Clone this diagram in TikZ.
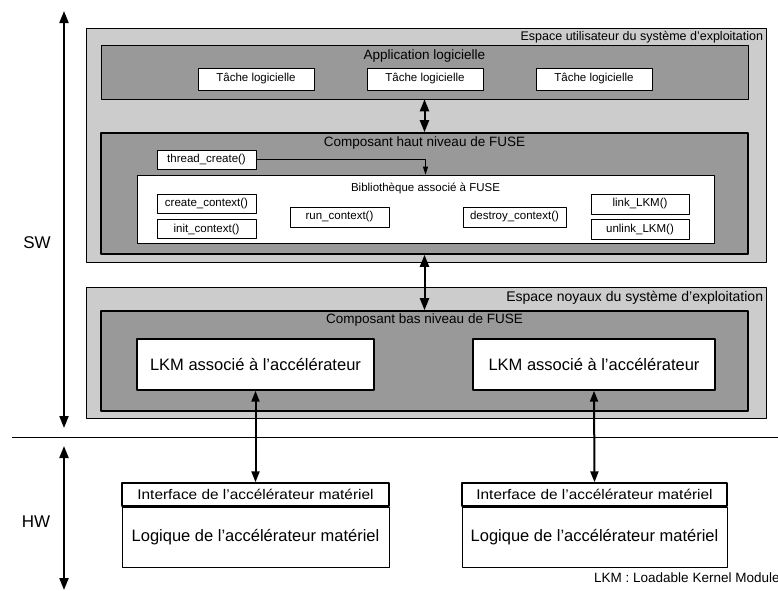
\documentclass[tikz,border=0pt]{standalone}
\usepackage{fontspec}
\setmainfont{Liberation Sans}
\newfontfamily\largefont{Liberation Sans}[FakeStretch=1.1]
\usetikzlibrary{arrows.meta,positioning}
\begin{document}
\begin{tikzpicture}[x=1pt,y=-1pt,line join=round,
    zone/.style={draw,inner sep=0pt,line width=0.6pt},
    bloc/.style={draw,line width=1.6pt,fill=\gris,inner sep=0pt},
    box/.style={draw,fill=white,inner sep=0pt,line width=0.6pt,font=\fontsize{11.5}{13}\selectfont},
    titre/.style={inner sep=1pt,font=\fontsize{13.5}{15}\selectfont},
    dbl/.style={line width=2pt,{Triangle[width=9pt,length=12pt]}-{Triangle[width=9pt,length=12pt]}},
    lien/.style={line width=2pt,{Triangle[width=8pt,length=11pt]}-{Triangle[width=8pt,length=11pt]}}]
    \def\clair{black!20}
    \def\gris{black!40}
    \useasboundingbox (0,0) rectangle (778,590);
    % espace utilisateur
    \node[zone,fill=\clair,minimum width=680,minimum height=234] (user) at (426,145) {};
    \node[titre,font=\fontsize{12.5}{14}\selectfont,below left=2.5pt and 2pt of user.north east] (usertxt) {Espace utilisateur du système d’exploitation};
    \node[zone,fill=\gris,minimum width=647,minimum height=54] (app) at (424.5,72) {};
    \node[titre,below=4pt of app.north] (apptxt) {Application logicielle};
    \node[box,minimum width=116,minimum height=22] (t1) at (256,79) {Tâche logicielle};
    \node[box,minimum width=116,minimum height=22] (t2) at (425,79) {Tâche logicielle};
    \node[box,minimum width=116,minimum height=22] (t3) at (594,79) {Tâche logicielle};
    \node[bloc,minimum width=647,minimum height=121] (haut) at (424.5,193.5) {};
    \node[titre,below=3.5pt of haut.north] (hauttxt) {Composant haut niveau de FUSE};
    \node[box,minimum width=99,minimum height=19] (thread) at (206.5,159.5) {thread\_create()};
    \node[box,minimum width=577,minimum height=68] (bib) at (425.5,209) {};
    \node[inner sep=1pt,font=\fontsize{11.5}{13}\selectfont,below=7pt of bib.north] (bibtxt) {Bibliothèque associé à FUSE};
    \node[box,minimum width=99,minimum height=19] (create) at (206.5,203.5) {create\_context()};
    \node[box,minimum width=99,minimum height=19,below=6pt of create] (init) {init\_context()};
    \node[box,minimum width=99,minimum height=20] (run) at (339.5,217) {run\_context()};
    \node[box,minimum width=103,minimum height=20] (destroy) at (514.5,217) {destroy\_context()};
    \node[box,minimum width=98,minimum height=20] (link) at (640,204) {link\_LKM()};
    \node[box,minimum width=98,minimum height=20,below=5pt of link] (unlink) {unlink\_LKM()};
    % espace noyau
    \node[zone,fill=\clair,minimum width=680,minimum height=131] (noyau) at (426,352.5) {};
    \node[titre,font=\fontsize{14}{16}\selectfont,below left=3pt and 2pt of noyau.north east] (noyautxt) {Espace noyaux du système d’exploitation};
    \node[bloc,minimum width=647,minimum height=100] (bas) at (424.5,361) {};
    \node[titre,below=2.5pt of bas.north] (bastxt) {Composant bas niveau de FUSE};
    \node[box,line width=1.4pt,minimum width=237,minimum height=51,font=\fontsize{16.5}{18}\selectfont] (lkma) at (255.5,364.5) {LKM associé à l’accélérateur};
    \node[box,line width=1.4pt,minimum width=242,minimum height=51,font=\fontsize{16.5}{18}\selectfont] (lkmb) at (594,364.5) {LKM associé à l’accélérateur};
    % materiel
    \node[box,line width=1.4pt,minimum width=267,minimum height=23,font=\largefont\fontsize{14}{16}\selectfont] (intfa) at (255.5,494.5) {Interface de l’accélérateur matériel};
    \node[box,minimum width=267,minimum height=60,font=\fontsize{16.5}{18}\selectfont,anchor=north] (logica) at (intfa.south) {Logique de l’accélérateur matériel};
    \node[box,line width=1.4pt,minimum width=265,minimum height=23,font=\largefont\fontsize{14}{16}\selectfont] (intfb) at (594.5,494.5) {Interface de l’accélérateur matériel};
    \node[box,minimum width=265,minimum height=60,font=\fontsize{16.5}{18}\selectfont,anchor=north] (logicb) at (intfb.south) {Logique de l’accélérateur matériel};
    % liaisons
    \draw[dbl] (app.south) -- (haut.north);
    \draw[dbl] (haut.south) -- (bas.north);
    \draw[line width=0.9pt,-{Triangle[width=5pt,length=8pt]}] (thread.east) -| (bib.north);
    \draw[lien] (lkma.south) -- (intfa.north);
    \draw[lien] (lkmb.south) -- (intfb.north);
    % SW / HW
    \coordinate (sw1) at (64,11);
    \coordinate (sw2) at (64,428);
    \coordinate (hw1) at (64,446);
    \coordinate (hw2) at (64,590);
    \draw[dbl] (sw1) -- (sw2);
    \draw[dbl] (hw1) -- (hw2);
    \coordinate (sep1) at (12,437);
    \coordinate (sep2) at (778,437);
    \draw[line width=0.9pt] (sep1) -- (sep2);
    \node[font=\fontsize{17}{19}\selectfont] (sw) at (37,243) {SW};
    \node[font=\fontsize{17}{19}\selectfont] (hw) at (36,522) {HW};
    \node[anchor=west,inner sep=0pt,font=\fontsize{13.5}{15}\selectfont] (legende) at (594,578) {LKM : Loadable Kernel Module};
\end{tikzpicture}
\end{document}
